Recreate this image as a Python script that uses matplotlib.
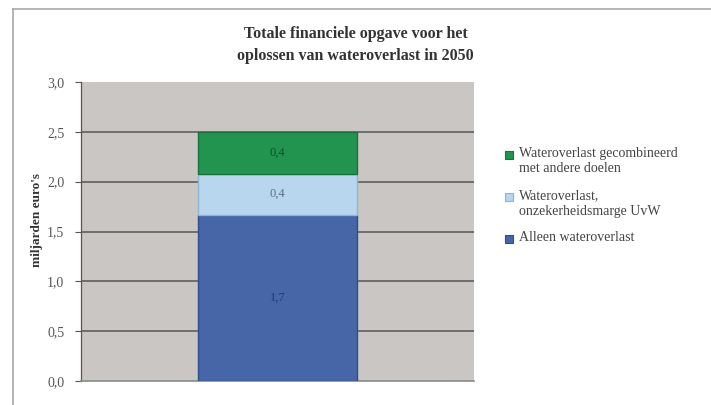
import matplotlib
matplotlib.use("Agg")
import matplotlib.pyplot as plt
from matplotlib.lines import Line2D
from matplotlib.patches import Rectangle

# =========================
# Data
# =========================

categories = [""]
series_names = ["Alleen wateroverlast",
                "Wateroverlast,\nonzekerheidsmarge UvW",
                "Wateroverlast gecombineerd\nmet andere doelen"]
series_values = [1.67, 0.41, 0.42]
series_colors = ["#4666a8", "#b8d6ee", "#23944f"]
edge_colors = ["#2f4f8c", "#8fb4d6", "#17733b"]
label_colors = ["#1f3a7a", "#5a6f86", "#0f4f28"]
yticks = [0.0, 0.5, 1.0, 1.5, 2.0, 2.5, 3.0]

plt.rcParams['font.family'] = ['Liberation Serif', 'DejaVu Serif']

W, H = 711, 405

# =========================
# Figure
# =========================

fig = plt.figure(figsize=(W / 100, H / 100), dpi=100)
ax = fig.add_axes([81 / W, 24 / H, 393 / W, 299 / H])
ax.set_facecolor("#cac6c3")

# Stacked bar
bottom = 0.0
for val, col, ec, lc in zip(series_values, series_colors, edge_colors, label_colors):
    ax.bar(0, val, width=0.405, bottom=bottom, color=col, edgecolor=ec,
           linewidth=1.0, zorder=3)
    ax.text(0, bottom + val / 2, ("%.1f" % val).replace(".", ","),
            ha="center", va="center", fontsize=9, color=lc, zorder=4)
    bottom += val

ax.set_xlim(-0.5, 0.5)
ax.set_ylim(0, 3.0)
ax.set_xticks([])
ax.set_yticks(yticks)
ax.set_yticklabels([("%.1f" % t).replace(".", ",") for t in yticks],
                   fontsize=10, color="#555555")
ax.tick_params(axis="y", length=4, width=0.8, color="#555555", pad=8)

# Horizontal gridlines
for t in yticks[1:-1]:
    ax.axhline(t, color="#6e6e6e", linewidth=1.4, zorder=1)

for side in ["top", "right"]:
    ax.spines[side].set_visible(False)
ax.spines["left"].set_color("#555555")
ax.spines["left"].set_linewidth(0.9)
ax.spines["bottom"].set_color("#8a8a8a")
ax.spines["bottom"].set_linewidth(1.2)

ax.set_ylabel("miljarden euro's", fontsize=9.5, fontweight="bold",
              color="#333333")
ax.yaxis.set_label_coords(-0.097, 0.54)

fig.text(0.5, 1 - 44.5 / H,
         "Totale financiele opgave voor het\noplossen van wateroverlast in 2050",
         ha="center", va="center", fontsize=11.5, fontweight="bold",
         color="#333333", linespacing=1.5)

# Legend, top segment first; squares line up with the first text line
legend_rows = [155, 197, 239]
for name, col, ec, row in zip(series_names[::-1], series_colors[::-1],
                              edge_colors[::-1], legend_rows):
    fig.add_artist(Rectangle((505 / W, 1 - (row + 4) / H), 8 / W, 8 / H,
                             facecolor=col, edgecolor=ec, linewidth=0.8,
                             transform=fig.transFigure))
    fig.text(519 / W, 1 - (row - 8) / H, name, ha="left", va="top",
             fontsize=10, color="#444444", linespacing=1.25)

# Outer chart frame (top and left only)
fig.add_artist(Line2D([13 / W, 1], [1 - 8.5 / H, 1 - 8.5 / H],
                      color="#a8a8a8", linewidth=1.2))
fig.add_artist(Line2D([13 / W, 13 / W], [0, 1 - 8.5 / H],
                      color="#a8a8a8", linewidth=1.2))

fig.savefig("out.png", dpi=100)
